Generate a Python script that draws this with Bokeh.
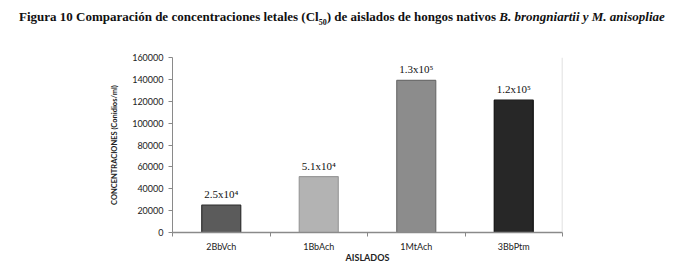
from bokeh.plotting import figure
from bokeh.models import Range1d, FixedTicker, ColumnDataSource, Div, Span, LabelSet
from bokeh.layouts import column
from bokeh.embed import file_html
from bokeh.resources import INLINE

categories = ["2BbVch", "1BbAch", "1MtAch", "3BbPtm"]
values = [25000, 51000, 139000, 121000]
value_labels = ["2.5x10\u2074", "5.1x10\u2074", "1.3x10\u2075", "1.2x10\u2075"]
fill_colors = ["#5b5b5b", "#b3b3b3", "#8c8c8c", "#272727"]
line_colors = ["#2e2e2e", "#9a9a9a", "#6e6e6e", "#111111"]
y_ticks = [0, 20000, 40000, 60000, 80000, 100000, 120000, 140000, 160000]

xs = list(range(len(categories)))
src = ColumnDataSource(dict(x=xs, top=values, lab=value_labels,
                            fill=fill_colors, line=line_colors))

title = Div(
    text=('<span>Figura 10 Comparación de concentraciones letales (Cl<sub style="font-size:8px">50</sub>) '
          'de aislados de hongos nativos <i>B. brongniartii y M. anisopliae</i></span>'),
    width=659, height=22,
    styles={"font-family": "Liberation Serif", "font-weight": "bold", "font-size": "13px",
            "color": "#111", "white-space": "nowrap", "padding-left": "14px", "padding-top": "3px"},
)

p = figure(frame_width=390, frame_height=175, output_backend="svg", toolbar_location=None,
           x_range=Range1d(-0.5, len(categories) - 0.5), y_range=Range1d(0, 160000),
           min_border_left=172, min_border_right=97, min_border_top=25, min_border_bottom=0)
p.outline_line_color = None
p.background_fill_color = "white"
p.border_fill_color = "white"

p.vbar(x="x", top="top", width=0.4, source=src, fill_color="fill", line_color="line", line_width=1.2)

labels = LabelSet(x="x", y="top", text="lab", source=src, text_align="center", text_baseline="bottom",
                  y_offset=5, text_font_size="11px", text_font="Liberation Serif", text_color="#111")
p.add_layout(labels)

# x axis
p.xaxis.ticker = FixedTicker(ticks=xs, minor_ticks=[i - 0.5 for i in range(len(categories) + 1)])
p.xaxis.major_label_overrides = {i: c for i, c in enumerate(categories)}
p.xaxis.major_tick_out = 0
p.xaxis.major_tick_in = 0
p.xaxis.minor_tick_out = 4
p.xaxis.minor_tick_in = 0
p.xaxis.minor_tick_line_color = "#888888"
p.xaxis.axis_line_color = "#8a8a8a"
p.xaxis.axis_line_width = 1.5
p.xaxis.major_label_text_font = "Lato"
p.xaxis.major_label_text_font_size = "9px"
p.xaxis.major_label_text_color = "#222"
p.xaxis.major_label_standoff = 4
p.xaxis.axis_label = "AISLADOS"
p.xaxis.axis_label_text_font = "Lato"
p.xaxis.axis_label_text_font_size = "9px"
p.xaxis.axis_label_text_font_style = "bold"
p.xaxis.axis_label_text_color = "#222"
p.xaxis.axis_label_standoff = -3

# y axis
p.yaxis.ticker = FixedTicker(ticks=y_ticks)
p.yaxis.minor_tick_line_color = None
p.yaxis.major_tick_out = 4
p.yaxis.major_tick_in = 0
p.yaxis.major_tick_line_color = "#888888"
p.yaxis.axis_line_color = "#8a8a8a"
p.yaxis.major_label_text_font = "Lato"
p.yaxis.major_label_text_font_size = "9px"
p.yaxis.major_label_text_color = "#222"
p.yaxis.major_label_standoff = 5
p.yaxis.formatter.use_scientific = False
p.yaxis.axis_label = "CONCENTRACIONES (Conidios/ml)"
p.yaxis.axis_label_text_font = "Lato"
p.yaxis.axis_label_text_font_size = "7.5px"
p.yaxis.axis_label_text_font_style = "bold"
p.yaxis.axis_label_text_color = "#222"
p.yaxis.axis_label_standoff = 10

p.xgrid.visible = False
p.ygrid.ticker = FixedTicker(ticks=[160000])
p.ygrid.grid_line_color = "#d0d0d0"
p.ygrid.grid_line_dash = "1 2"

p.add_layout(Span(location=len(categories) - 0.5, dimension="height", line_color="#d5d5d5", line_width=1.5))

layout = column(title, p, spacing=0)
open("out.html", "w").write(file_html(layout, INLINE))
